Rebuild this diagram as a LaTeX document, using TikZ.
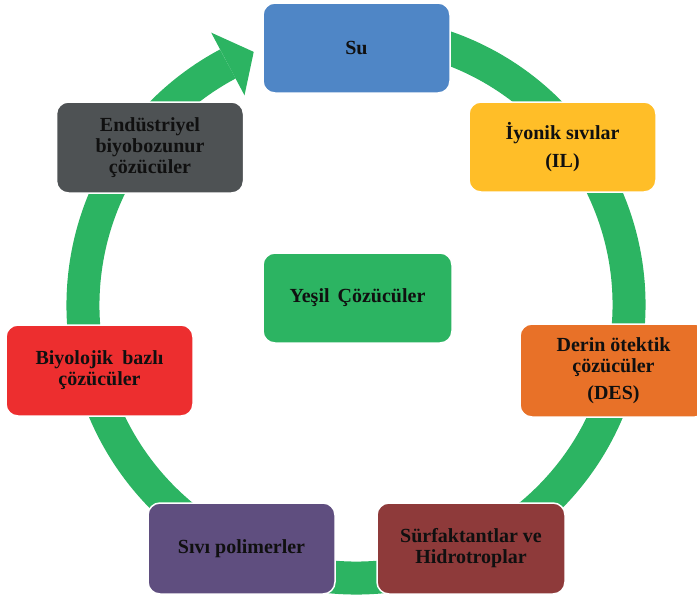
\documentclass[tikz,border=0pt]{standalone}
\usepackage{fontspec}
\setmainfont{Liberation Serif}
\usetikzlibrary{calc}
\definecolor{cSu}{HTML}{4F86C6}
\definecolor{cIL}{HTML}{FFBE28}
\definecolor{cEnd}{HTML}{4E5254}
\definecolor{cDES}{HTML}{E87128}
\definecolor{cSivi}{HTML}{5F4E7F}
\definecolor{cSurf}{HTML}{8E3A3A}
\definecolor{cBio}{HTML}{ED2E2F}
\definecolor{cGreen}{HTML}{2CB462}
\definecolor{cText}{HTML}{101010}
\begin{document}
\begin{tikzpicture}[x=1pt,y=1pt,
  box/.style={draw=white, line width=1.5pt, rounded corners=12pt,
    minimum width=187pt, minimum height=90pt, inner sep=0pt,
    align=center, text=cText,
    font=\fontsize{20}{21}\selectfont\bfseries},
  ring/.style={draw=cGreen, line width=33pt}]
\useasboundingbox (0,0) rectangle (697,-598);
\clip (0,0) rectangle (697,-598);
\coordinate (C) at (356,-305);
% circular arrow
\draw[ring] ($(C)+(80:273)$) arc[start angle=80, end angle=-242, radius=273];
\fill[cGreen] ($(C)+(118:308.5)$) -- ($(C)+(112:273)$) -- ($(C)+(118:237.5)$) -- cycle;
% boxes
\node[box, fill=cSu] (su) at (356.5,-48) {Su};
\node[box, fill=cIL] (il) at (562.5,-147) {İyonik sıvılar\\[7pt](IL)};
\node[box, fill=cEnd, minimum height=91pt] (end) at (150,-147.5) {Endüstriyel\\biyobozunur\\çözücüler};
\node[box, fill=cDES, minimum height=93pt] (des) at (613.5,-370.5) {Derin ötektik\\çözücüler\\[6pt](DES)};
\node[box, fill=cSivi, minimum height=91pt] (sivi) at (241.5,-548.5) {Sıvı polimerler};
\node[box, fill=cSurf, minimum height=91pt, minimum width=188pt] (surf) at (471,-548.5) {Sürfaktantlar ve\\Hidrotroplar};
\node[box, fill=cBio, minimum height=91pt] (bio) at (99.5,-370.5) {Biyolojik\hspace{0.2em} bazlı\\çözücüler};
\node[box, fill=cGreen, minimum width=189pt] (yesil) at (357.5,-298) {Yeşil\hspace{0.15em} Çözücüler};
\end{tikzpicture}
\end{document}
